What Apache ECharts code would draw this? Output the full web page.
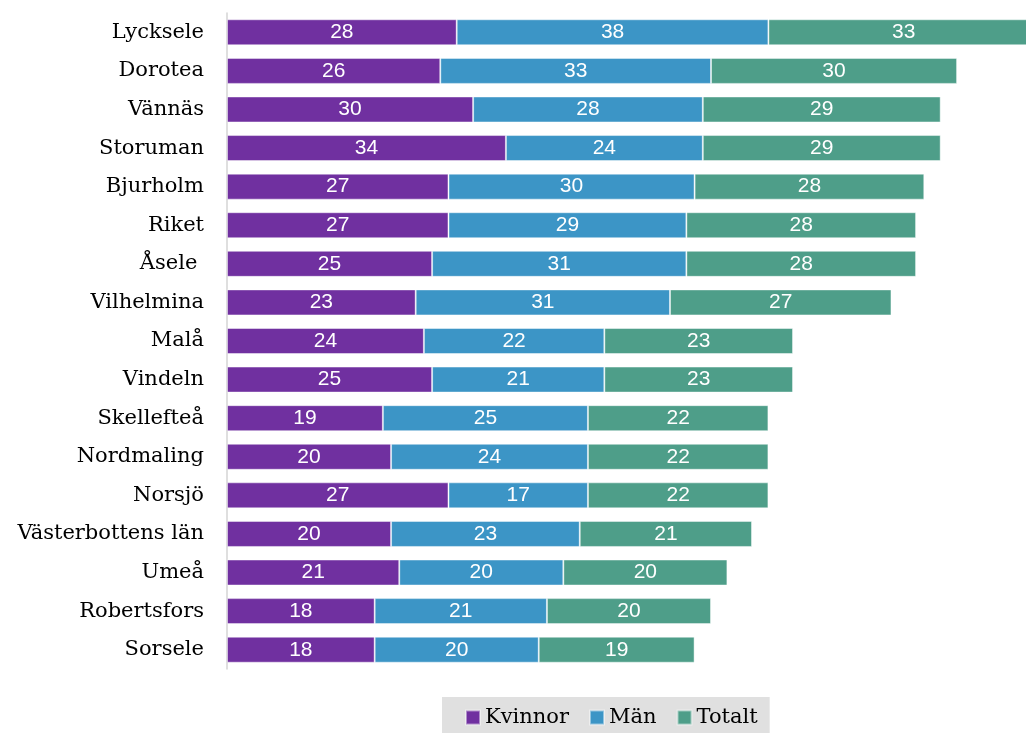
<!DOCTYPE html>
<html><head><meta charset="utf-8">
<script src="https://cdn.jsdelivr.net/npm/echarts@6/dist/echarts.min.js"></script>
<style>html,body{margin:0;padding:0;background:#fff}#c{width:1026px;height:733px}</style>
</head><body><div id="c"></div>
<script>
const categories = ["Lycksele","Dorotea","Vännäs","Storuman","Bjurholm","Riket","Åsele ","Vilhelmina","Malå","Vindeln","Skellefteå","Nordmaling","Norsjö","Västerbottens län","Umeå","Robertsfors","Sorsele"];
const kvinnor = [28,26,30,34,27,27,25,23,24,25,19,20,27,20,21,18,18];
const man     = [38,33,28,24,30,29,31,31,22,21,25,24,17,23,20,21,20];
const totalt  = [33,30,29,29,28,28,28,27,23,23,22,22,22,21,20,20,19];
const seriesNames = ["Kvinnor","Män","Totalt"];
const colors = ["#7030A0","#3C95C6","#4E9E89"];

const chart = echarts.init(document.getElementById('c'));
const mk = (name, data, color) => ({
  name, type: 'bar', stack: 'a', data, barWidth: 26, clip: false,
  itemStyle: {color, borderColor: 'rgba(255,255,255,0.45)', borderWidth: 1},
  label: {show: true, position: 'inside', color: '#fff', fontFamily: 'Liberation Sans', fontSize: 21}
});
chart.setOption({
  animation: false,
  grid: {left: 227, top: 13, right: 0, height: 656},
  xAxis: {type: 'value', min: 0, max: 97.4, show: false},
  yAxis: {
    type: 'category', data: categories, inverse: true,
    axisLine: {lineStyle: {color: '#d4d4d4', width: 1.5}},
    axisTick: {show: false},
    axisLabel: {margin: 23, color: '#000', fontFamily: 'DejaVu Serif', fontSize: 21}
  },
  legend: {
    data: seriesNames, left: 442, top: 697,
    backgroundColor: '#e0e0e0', padding: [10, 12, 12, 23],
    itemWidth: 14, itemHeight: 14, itemGap: 20, icon: 'rect',
    textStyle: {color: '#000', fontFamily: 'DejaVu Serif', fontSize: 21}
  },
  series: [mk(seriesNames[0], kvinnor, colors[0]), mk(seriesNames[1], man, colors[1]), mk(seriesNames[2], totalt, colors[2])]
});
</script></body></html>
